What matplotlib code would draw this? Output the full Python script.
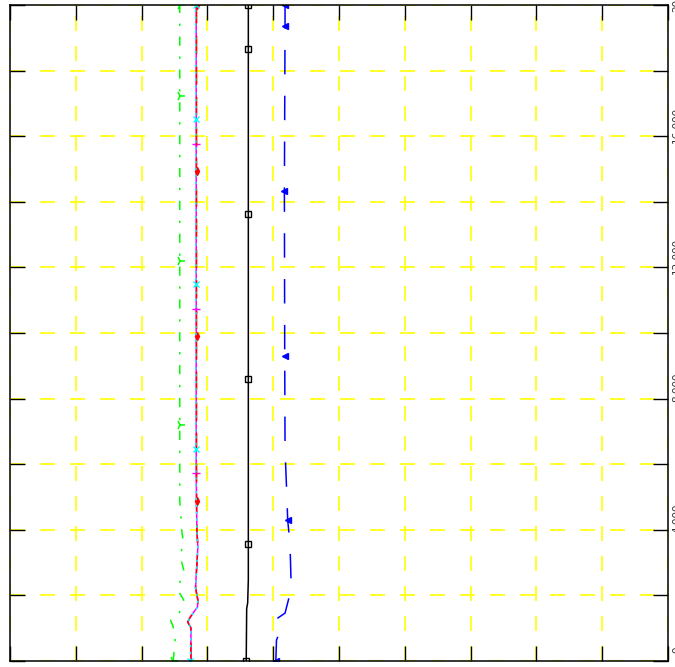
import numpy as np
import matplotlib
matplotlib.use("Agg")
import matplotlib.pyplot as plt
import matplotlib.transforms as mtransforms
from matplotlib.ticker import FuncFormatter

# Profiles: depth (y) and value (x, in grid units)
depth_green = [0, 640, 1040, 1250, 1460, 1650, 1860, 2170, 2320, 2770, 3170,
               3690, 3990, 4910, 7200, 12200, 17230, 20000]
x_green = [2.48, 2.51, 2.48, 2.44, 2.57, 2.61, 2.64, 2.55, 2.57, 2.64, 2.59,
           2.63, 2.61, 2.58, 2.58, 2.58, 2.58, 2.58]
marks_green = [0, 7200, 12200, 17230, 20000]

depth_black = [0, 1600, 1770, 2470, 3570, 8600, 13630, 18660, 20000]
x_black = [3.59, 3.597, 3.612, 3.622, 3.622, 3.622, 3.622, 3.622, 3.622]
marks_black = [0, 3570, 8600, 13630, 18660, 20000]

depth_blue = [0, 640, 1130, 1310, 1460, 2010, 2170, 2530, 3230, 3690, 4300,
              4910, 6430, 9300, 14330, 19360, 20000]
x_blue = [4.04, 4.05, 4.15, 4.07, 4.18, 4.25, 4.21, 4.27, 4.26, 4.25, 4.22,
          4.21, 4.18, 4.175, 4.17, 4.18, 4.18]
marks_blue = [0, 4300, 9300, 14330, 19360, 20000]

depth_mid = [0, 1010, 1190, 1340, 1650, 1860, 2230, 2620, 2930, 3480, 3990,
             4880, 5730, 6460, 9910, 10730, 11490, 14940, 15760, 16520, 20000]
x_magenta = [2.75, 2.75, 2.70, 2.74, 2.85, 2.855, 2.82, 2.83, 2.84, 2.855, 2.84,
             2.835, 2.83, 2.83, 2.83, 2.83, 2.83, 2.83, 2.83, 2.83, 2.83]
x_red = [2.75, 2.75, 2.70, 2.74, 2.85, 2.855, 2.82, 2.83, 2.84, 2.855, 2.84,
         2.835, 2.835, 2.835, 2.835, 2.835, 2.835, 2.835, 2.835, 2.835, 2.835]
x_cyan = [2.74, 2.75, 2.70, 2.74, 2.85, 2.855, 2.82, 2.83, 2.84, 2.855, 2.84,
          2.83, 2.825, 2.825, 2.825, 2.825, 2.825, 2.825, 2.825, 2.825, 2.82]
marks_magenta = [5730, 10730, 15760]
marks_red = [4880, 9910, 14940, 20000]
marks_cyan = [0, 6460, 11490, 16520, 20000]


def mark_idx(depths, marks):
    return [depths.index(m) for m in marks]


fig = plt.figure(figsize=(6.75, 6.67), dpi=100)
ax = fig.add_axes([10 / 675, 6 / 667, 658 / 675, 656 / 667])

ax.plot(x_black, depth_black, color="black", lw=1.1, marker="s", ms=5,
        mfc="none", mec="black", markevery=mark_idx(depth_black, marks_black))
ax.plot(x_blue, depth_blue, color="#0000ff", lw=1.1, dashes=(16, 14),
        marker="<", ms=5, markevery=mark_idx(depth_blue, marks_blue))
ax.plot(x_green, depth_green, color="#00ff00", lw=1.1, dashes=(6, 7, 1.5, 7),
        marker="4", ms=7, mew=1.1, markevery=mark_idx(depth_green, marks_green))
ax.plot(x_magenta, depth_mid, color="#ff00ff", lw=1.1, marker="+", ms=6,
        markevery=mark_idx(depth_mid, marks_magenta))
ax.plot(x_red, depth_mid, color="#ff0000", lw=1.1, dashes=(12, 8),
        marker="d", ms=4, markevery=mark_idx(depth_mid, marks_red))
ax.plot(x_cyan, depth_mid, color="#00ffff", lw=1.1, dashes=(1.5, 3),
        marker="x", ms=5, markevery=mark_idx(depth_mid, marks_cyan))

ax.set_xlim(0, 10)
ax.set_ylim(0, 20000)
ax.set_xticks(np.arange(0, 11, 1))
ax.set_yticks(np.arange(0, 20001, 2000))
ax.yaxis.set_major_formatter(
    FuncFormatter(lambda v, p: f"{int(v):,}" if int(v) % 4000 == 0 else ""))

ax.set_axisbelow(True)
ax.grid(True, color="#ffff00", linestyle=(0, (9, 9)), linewidth=1.2)
ax.tick_params(direction="in", length=11, width=1.0, color="black",
               top=True, bottom=True, left=True, right=True,
               labelbottom=False, labelleft=False, labelright=True,
               labelsize=7.5, pad=3)

# rotated labels sit a little above their ticks in the reference
shift = mtransforms.ScaledTranslation(0, 8 / 72, fig.dpi_scale_trans)
for lab in ax.get_yticklabels():
    lab.set_rotation(90)
    lab.set_va("center")
    lab.set_color("#333333")
    lab.set_transform(lab.get_transform() + shift)
for sp in ax.spines.values():
    sp.set_linewidth(1.1)

fig.savefig("out.png", dpi=100)
